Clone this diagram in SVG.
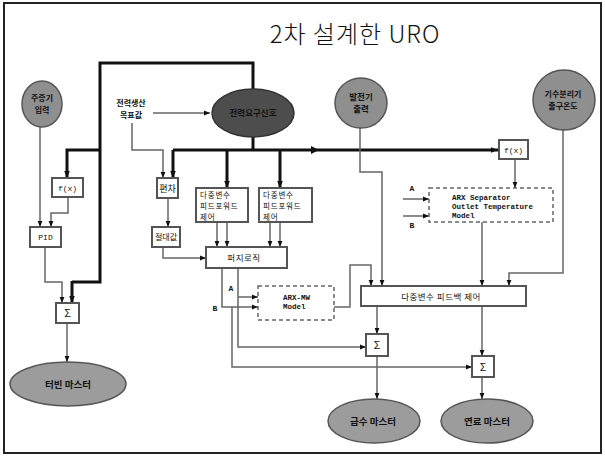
<svg xmlns="http://www.w3.org/2000/svg" width="605" height="456" viewBox="0 0 605 456">
<defs>
<marker id="ah" viewBox="0 0 10 10" refX="10" refY="5" markerWidth="6" markerHeight="6" orient="auto" markerUnits="userSpaceOnUse"><path d="M0,1 L10,5 L0,9 z" fill="#111"/></marker>
<marker id="ahb" viewBox="0 0 10 10" refX="10" refY="5" markerWidth="7" markerHeight="7" orient="auto" markerUnits="userSpaceOnUse"><path d="M0,1 L10,5 L0,9 z" fill="#111"/></marker>
<style>
.kr{font-family:"Noto Sans CJK KR","Liberation Sans",sans-serif;fill:#111}
.mono{font-family:"Liberation Mono","Noto Sans CJK KR",monospace;fill:#111}
.box{fill:#fff;stroke:#555;stroke-width:2}
.dbox{fill:#fff;stroke:#666;stroke-width:1.5;stroke-dasharray:4 3}
.sig{fill:#8f8f8f;stroke:#555;stroke-width:1.5}
.out{fill:#9c9c9c;stroke:#555;stroke-width:1.5}
.thin{fill:none;stroke:#666;stroke-width:1.5;marker-end:url(#ah)}
.thick{fill:none;stroke:#111;stroke-width:3;marker-end:url(#ahb)}
.thickn{fill:none;stroke:#111;stroke-width:3}
.ff{font-size:7.5px;letter-spacing:0.8px}
</style>
</defs>
<rect x="0" y="0" width="605" height="456" fill="#fff"/>
<rect x="4" y="3" width="597" height="450" fill="none" stroke="#222" stroke-width="2"/>
<text class="kr" x="355" y="43" font-size="24" font-weight="300" letter-spacing="1" text-anchor="middle">2차 설계한 URO</text>

<g id="connectors">
<path class="thickn" d="M253,89 V63 H100 V282 H72"/>
<path class="thick" d="M72,281 V303"/>
<path class="thick" d="M100,150 H67 V178"/>
<path class="thickn" d="M253,137 V150"/>
<path class="thick" d="M173,150 H498"/>
<path d="M311,146 L319,150 L311,154 z" fill="#111"/>
<path class="thick" d="M173,150 V178"/>
<path class="thick" d="M227,150 V188"/>
<path class="thick" d="M280,150 V188"/>

<path class="thin" d="M40,127 V227"/>
<path class="thin" d="M68,197 V213 H51 V227"/>
<path class="thin" d="M45,247 V282 H62 V303"/>
<path class="thin" d="M67,323 V362"/>
<path class="thin" d="M153,113 H210"/>
<path class="thin" d="M132,123 V150 H163 V178"/>
<path class="thin" d="M168,198 V227"/>
<path class="thin" d="M163,247 V258 H206"/>
<path class="thin" d="M217,222 V247"/>
<path class="thin" d="M227,222 V247"/>
<path class="thin" d="M270,222 V247"/>
<path class="thin" d="M280,222 V247"/>
<path class="thin" d="M222,268 V307 H258"/>
<path class="thin" d="M238,268 V347 H366"/>
<path class="thin" d="M238,297 H258"/>
<path class="thin" d="M232,307 V367 H472"/>
<path class="thin" d="M334,307 H350 V265 H371 V286"/>
<path class="thin" d="M360,128 V172 H382 V286"/>
<path class="thin" d="M515,160 V188"/>
<path class="thin" d="M403,199 H429"/>
<path class="thin" d="M403,216 H429"/>
<path class="thin" d="M482,222 V286"/>
<path class="thin" d="M563,130 V273 H509 V286"/>
<path class="thin" d="M377,306 V334"/>
<path class="thin" d="M377,356 V399"/>
<path class="thin" d="M482,306 V356"/>
<path class="thin" d="M482,377 V399"/>
<text class="mono" x="412" y="191" font-size="8" font-weight="bold" text-anchor="middle">A</text>
<text class="mono" x="412" y="228" font-size="8" font-weight="bold" text-anchor="middle">B</text>
<text class="mono" x="231" y="291" font-size="8" font-weight="bold" text-anchor="middle">A</text>
<text class="mono" x="215" y="311" font-size="8" font-weight="bold" text-anchor="middle">B</text>
</g>

<g id="n-steam">
<ellipse class="sig" cx="42" cy="104" rx="20" ry="23"/>
<text class="kr" x="42" y="101" font-size="8" font-weight="bold" text-anchor="middle">주증기</text>
<text class="kr" x="42" y="113" font-size="8" font-weight="bold" text-anchor="middle">입력</text>
</g>
<g id="n-gen">
<ellipse class="sig" cx="361" cy="103" rx="26" ry="25"/>
<text class="kr" x="361" y="100" font-size="8.5" font-weight="bold" text-anchor="middle">발전기</text>
<text class="kr" x="361" y="112" font-size="8.5" font-weight="bold" text-anchor="middle">출력</text>
</g>
<g id="n-sep">
<ellipse class="sig" cx="564" cy="100" rx="31" ry="30"/>
<text class="kr" x="563" y="97" font-size="8" font-weight="bold" text-anchor="middle">기수분리기</text>
<text class="kr" x="563" y="109" font-size="8" font-weight="bold" text-anchor="middle">출구온도</text>
</g>
<g id="n-demand">
<ellipse cx="253" cy="113" rx="41" ry="24" fill="#4d4d4d" stroke="#333" stroke-width="1.5"/>
<text class="kr" x="253" y="116" font-size="8.5" font-weight="bold" text-anchor="middle">전력요구신호</text>
</g>
<g id="n-target">
<text class="kr" x="131" y="106" font-size="8" font-weight="bold" text-anchor="middle">전력생산</text>
<text class="kr" x="131" y="118" font-size="8" font-weight="bold" text-anchor="middle">목표값</text>
</g>
<g id="n-fx1">
<rect class="box" x="52" y="178" width="31" height="19"/>
<text class="mono" x="67.5" y="190.5" font-size="8" text-anchor="middle">f(x)</text>
</g>
<g id="n-pid">
<rect class="box" x="30" y="227" width="31" height="20"/>
<text class="mono" x="45.5" y="240" font-size="8" text-anchor="middle">PID</text>
</g>
<g id="n-sum1">
<rect class="box" x="56" y="303" width="23" height="20"/>
<text class="kr" x="67.5" y="317" font-size="11" text-anchor="middle" fill="#555">Σ</text>
</g>
<g id="n-turbine">
<ellipse class="out" cx="68" cy="384" rx="58" ry="22"/>
<text class="kr" x="68" y="388" font-size="9.5" font-weight="bold" text-anchor="middle">터빈 마스터</text>
</g>
<g id="n-dev">
<rect class="box" x="157" y="178" width="21" height="20"/>
<text class="kr" x="167.5" y="191.5" font-size="9" text-anchor="middle">편차</text>
</g>
<g id="n-abs">
<rect class="box" x="152" y="227" width="28" height="20"/>
<text class="kr" x="166" y="240" font-size="8" text-anchor="middle">절대값</text>
</g>
<g id="n-ff1">
<rect class="box" x="196" y="188" width="52" height="34"/>
<text class="kr ff" x="200" y="197.5">다중변수</text>
<text class="kr ff" x="200" y="208.5">피드포워드</text>
<text class="kr ff" x="200" y="219.5">제어</text>
</g>
<g id="n-ff2">
<rect class="box" x="259" y="188" width="53" height="34"/>
<text class="kr ff" x="263" y="197.5">다중변수</text>
<text class="kr ff" x="263" y="208.5">피드포워드</text>
<text class="kr ff" x="263" y="219.5">제어</text>
</g>
<g id="n-fuzzy">
<rect class="box" x="206" y="247" width="81" height="21"/>
<text class="kr" x="244" y="260.5" font-size="8.5" letter-spacing="0.5" text-anchor="middle">퍼지로직</text>
</g>
<g id="n-arxmw">
<rect class="dbox" x="258" y="286" width="76" height="34"/>
<text class="mono" x="283" y="300" font-size="7.5" font-weight="bold">ARX-MW</text>
<text class="mono" x="283" y="309" font-size="7.5" font-weight="bold">Model</text>
</g>
<g id="n-fx2">
<rect class="box" x="499" y="140" width="29" height="19"/>
<text class="mono" x="513.5" y="152.5" font-size="8" text-anchor="middle">f(x)</text>
</g>
<g id="n-arxsep">
<rect class="dbox" x="429" y="188" width="124" height="34"/>
<text class="mono" x="452" y="200" font-size="7.5" font-weight="bold">ARX Separator</text>
<text class="mono" x="452" y="209" font-size="7.5" font-weight="bold">Outlet Temperature</text>
<text class="mono" x="452" y="218" font-size="7.5" font-weight="bold">Model</text>
</g>
<g id="n-fb">
<rect class="box" x="361" y="286" width="165" height="20"/>
<text class="kr" x="441" y="299.5" font-size="8.5" letter-spacing="0.5" text-anchor="middle">다중변수 피드백 제어</text>
</g>
<g id="n-sum2">
<rect class="box" x="366" y="334" width="22" height="22"/>
<text class="kr" x="377" y="349" font-size="11" text-anchor="middle" fill="#555">Σ</text>
</g>
<g id="n-sum3">
<rect class="box" x="472" y="356" width="22" height="21"/>
<text class="kr" x="483" y="371" font-size="11" text-anchor="middle" fill="#555">Σ</text>
</g>
<g id="n-water">
<ellipse class="out" cx="374" cy="421" rx="46" ry="22"/>
<text class="kr" x="373" y="425" font-size="9.5" font-weight="bold" text-anchor="middle">급수 마스터</text>
</g>
<g id="n-fuel">
<ellipse class="out" cx="487" cy="421" rx="46" ry="22"/>
<text class="kr" x="487" y="425" font-size="9.5" font-weight="bold" text-anchor="middle">연료 마스터</text>
</g>
</svg>
